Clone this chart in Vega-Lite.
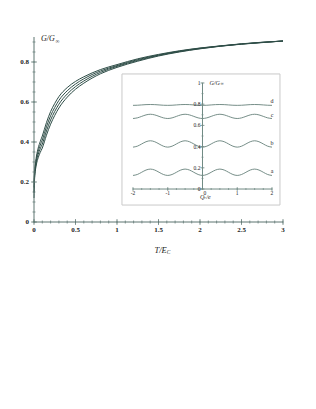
{
"$schema":"https://vega.github.io/schema/vega-lite/v6.json",
"width":249,"height":186,
"autosize":"none",
"padding":{"left":34,"top":36,"right":33,"bottom":187},
"background":"white",
"config":{"view":{"stroke":null},"axis":{"disable":true},"text":{"font":"Liberation Serif","fontSize":7,"color":"#222222"}},
"datasets":{
"main":[
{"t":0,"g1":0.12,"g2":0.147,"g3":0.173,"g4":0.2},
{"t":0.005,"g1":0.198,"g2":0.213,"g3":0.228,"g4":0.243},
{"t":0.01,"g1":0.232,"g2":0.244,"g3":0.256,"g4":0.268},
{"t":0.02,"g1":0.267,"g2":0.279,"g3":0.291,"g4":0.303},
{"t":0.03,"g1":0.29,"g2":0.304,"g3":0.317,"g4":0.33},
{"t":0.05,"g1":0.321,"g2":0.337,"g3":0.353,"g4":0.369},
{"t":0.075,"g1":0.348,"g2":0.366,"g3":0.384,"g4":0.402},
{"t":0.1,"g1":0.37,"g2":0.39,"g3":0.41,"g4":0.43},
{"t":0.15,"g1":0.434,"g2":0.455,"g3":0.476,"g4":0.497},
{"t":0.2,"g1":0.489,"g2":0.51,"g3":0.531,"g4":0.552},
{"t":0.25,"g1":0.533,"g2":0.553,"g3":0.573,"g4":0.593},
{"t":0.3,"g1":0.57,"g2":0.589,"g3":0.608,"g4":0.627},
{"t":0.4,"g1":0.624,"g2":0.64,"g3":0.656,"g4":0.672},
{"t":0.5,"g1":0.664,"g2":0.677,"g3":0.69,"g4":0.703},
{"t":0.6,"g1":0.694,"g2":0.705,"g3":0.716,"g4":0.726},
{"t":0.8,"g1":0.741,"g2":0.748,"g3":0.755,"g4":0.762},
{"t":1.0,"g1":0.773,"g2":0.778,"g3":0.782,"g4":0.787},
{"t":1.25,"g1":0.804,"g2":0.808,"g3":0.812,"g4":0.816},
{"t":1.5,"g1":0.83,"g2":0.833,"g3":0.835,"g4":0.838},
{"t":1.75,"g1":0.85,"g2":0.852,"g3":0.854,"g4":0.856},
{"t":2.0,"g1":0.866,"g2":0.867,"g3":0.869,"g4":0.87},
{"t":2.25,"g1":0.879,"g2":0.88,"g3":0.88,"g4":0.881},
{"t":2.5,"g1":0.889,"g2":0.89,"g3":0.89,"g4":0.891},
{"t":2.75,"g1":0.897,"g2":0.898,"g3":0.898,"g4":0.899},
{"t":3.0,"g1":0.905,"g2":0.905,"g3":0.905,"g4":0.905}
],
"inset":[
{"q":-2,"a":0.128,"b":0.395,"c":0.665,"d":0.789},
{"q":-1.875,"a":0.137,"b":0.404,"c":0.671,"d":0.79},
{"q":-1.75,"a":0.158,"b":0.425,"c":0.685,"d":0.793},
{"q":-1.625,"a":0.179,"b":0.446,"c":0.699,"d":0.796},
{"q":-1.5,"a":0.188,"b":0.455,"c":0.705,"d":0.797},
{"q":-1.375,"a":0.179,"b":0.446,"c":0.699,"d":0.796},
{"q":-1.25,"a":0.158,"b":0.425,"c":0.685,"d":0.793},
{"q":-1.125,"a":0.137,"b":0.404,"c":0.671,"d":0.79},
{"q":-1,"a":0.128,"b":0.395,"c":0.665,"d":0.789},
{"q":-0.875,"a":0.137,"b":0.404,"c":0.671,"d":0.79},
{"q":-0.75,"a":0.158,"b":0.425,"c":0.685,"d":0.793},
{"q":-0.625,"a":0.179,"b":0.446,"c":0.699,"d":0.796},
{"q":-0.5,"a":0.188,"b":0.455,"c":0.705,"d":0.797},
{"q":-0.375,"a":0.179,"b":0.446,"c":0.699,"d":0.796},
{"q":-0.25,"a":0.158,"b":0.425,"c":0.685,"d":0.793},
{"q":-0.125,"a":0.137,"b":0.404,"c":0.671,"d":0.79},
{"q":0,"a":0.128,"b":0.395,"c":0.665,"d":0.789},
{"q":0.125,"a":0.137,"b":0.404,"c":0.671,"d":0.79},
{"q":0.25,"a":0.158,"b":0.425,"c":0.685,"d":0.793},
{"q":0.375,"a":0.179,"b":0.446,"c":0.699,"d":0.796},
{"q":0.5,"a":0.188,"b":0.455,"c":0.705,"d":0.797},
{"q":0.625,"a":0.179,"b":0.446,"c":0.699,"d":0.796},
{"q":0.75,"a":0.158,"b":0.425,"c":0.685,"d":0.793},
{"q":0.875,"a":0.137,"b":0.404,"c":0.671,"d":0.79},
{"q":1,"a":0.128,"b":0.395,"c":0.665,"d":0.789},
{"q":1.125,"a":0.137,"b":0.404,"c":0.671,"d":0.79},
{"q":1.25,"a":0.158,"b":0.425,"c":0.685,"d":0.793},
{"q":1.375,"a":0.179,"b":0.446,"c":0.699,"d":0.796},
{"q":1.5,"a":0.188,"b":0.455,"c":0.705,"d":0.797},
{"q":1.625,"a":0.179,"b":0.446,"c":0.699,"d":0.796},
{"q":1.75,"a":0.158,"b":0.425,"c":0.685,"d":0.793},
{"q":1.875,"a":0.137,"b":0.404,"c":0.671,"d":0.79},
{"q":2,"a":0.128,"b":0.395,"c":0.665,"d":0.789}
],
"lbl":[{"k":"a","q":2,"g":0.128},{"k":"b","q":2,"g":0.395},{"k":"c","q":2,"g":0.665},{"k":"d","q":2,"g":0.789}],
"mxMin":[{"v":0},{"v":0.1},{"v":0.2},{"v":0.3},{"v":0.4},{"v":0.5},{"v":0.6},{"v":0.7},{"v":0.8},{"v":0.9},{"v":1},{"v":1.1},{"v":1.2},{"v":1.3},{"v":1.4},{"v":1.5},{"v":1.6},{"v":1.7},{"v":1.8},{"v":1.9},{"v":2},{"v":2.1},{"v":2.2},{"v":2.3},{"v":2.4},{"v":2.5},{"v":2.6},{"v":2.7},{"v":2.8},{"v":2.9},{"v":3}],
"mxMaj":[{"v":0,"l":"0"},{"v":0.5,"l":"0.5"},{"v":1,"l":"1"},{"v":1.5,"l":"1.5"},{"v":2,"l":"2"},{"v":2.5,"l":"2.5"},{"v":3,"l":"3"}],
"myMin":[{"v":0},{"v":0.05},{"v":0.1},{"v":0.15},{"v":0.2},{"v":0.25},{"v":0.3},{"v":0.35},{"v":0.4},{"v":0.45},{"v":0.5},{"v":0.55},{"v":0.6},{"v":0.65},{"v":0.7},{"v":0.75},{"v":0.8},{"v":0.85},{"v":0.9}],
"myMaj":[{"v":0,"l":"0"},{"v":0.2,"l":"0.2"},{"v":0.4,"l":"0.4"},{"v":0.6,"l":"0.6"},{"v":0.8,"l":"0.8"}],
"ixMin":[{"v":-2},{"v":-1.75},{"v":-1.5},{"v":-1.25},{"v":-1},{"v":-0.75},{"v":-0.5},{"v":-0.25},{"v":0},{"v":0.25},{"v":0.5},{"v":0.75},{"v":1},{"v":1.25},{"v":1.5},{"v":1.75},{"v":2}],
"ixMaj":[{"v":-2,"l":"-2"},{"v":-1,"l":"-1"},{"v":1,"l":"1"},{"v":2,"l":"2"}],
"iyMin":[{"v":0},{"v":0.1},{"v":0.2},{"v":0.3},{"v":0.4},{"v":0.5},{"v":0.6},{"v":0.7},{"v":0.8},{"v":0.9},{"v":1}],
"iyMaj":[{"v":0,"l":"0"},{"v":0.2,"l":"0.2"},{"v":0.4,"l":"0.4"},{"v":0.6,"l":"0.6"},{"v":0.8,"l":"0.8"},{"v":1,"l":"1"}]
},
"layer":[
{"layer":[
{"data":{"name":"main"},"transform":[{"fold":["g1","g2","g3","g4"],"as":["curve","g"]}],
 "mark":{"type":"line","interpolate":"monotone","color":"#2e4d47","strokeWidth":1},
 "encoding":{"x":{"field":"t","type":"quantitative","scale":{"domain":[0,3],"nice":false,"zero":false},"axis":null},
 "y":{"field":"g","type":"quantitative","scale":{"domain":[0,0.93],"nice":false,"zero":false},"axis":null},
 "detail":{"field":"curve"}}},
{"data":{"values":[{}]},"mark":{"type":"rule","color":"#5d7570","strokeWidth":1},
 "encoding":{"x":{"datum":0,"type":"quantitative"},"x2":{"datum":3},"y":{"datum":0,"type":"quantitative"}}},
{"data":{"values":[{}]},"mark":{"type":"rule","color":"#5d7570","strokeWidth":1},
 "encoding":{"x":{"datum":0,"type":"quantitative"},"y":{"datum":0,"type":"quantitative"},"y2":{"datum":0.925}}},
{"data":{"name":"mxMin"},"mark":{"type":"tick","orient":"vertical","size":3,"thickness":1,"color":"#5d7570"},
 "encoding":{"x":{"field":"v","type":"quantitative"},"y":{"datum":0,"type":"quantitative"}}},
{"data":{"name":"mxMaj"},"mark":{"type":"tick","orient":"vertical","size":6,"thickness":1,"color":"#5d7570"},
 "encoding":{"x":{"field":"v","type":"quantitative"},"y":{"datum":0,"type":"quantitative"}}},
{"data":{"name":"myMin"},"mark":{"type":"tick","orient":"horizontal","size":3,"thickness":1,"color":"#5d7570"},
 "encoding":{"y":{"field":"v","type":"quantitative"},"x":{"datum":0,"type":"quantitative"}}},
{"data":{"name":"myMaj"},"mark":{"type":"tick","orient":"horizontal","size":6,"thickness":1,"color":"#5d7570"},
 "encoding":{"y":{"field":"v","type":"quantitative"},"x":{"datum":0,"type":"quantitative"}}},
{"data":{"name":"mxMaj"},"mark":{"type":"text","baseline":"top","dy":4,"fontSize":7,"fontWeight":"bold"},
 "encoding":{"x":{"field":"v","type":"quantitative"},"y":{"datum":0,"type":"quantitative"},"text":{"field":"l"}}},
{"data":{"name":"myMaj"},"mark":{"type":"text","align":"right","baseline":"middle","dx":-5,"fontSize":7,"fontWeight":"bold"},
 "encoding":{"y":{"field":"v","type":"quantitative"},"x":{"datum":0,"type":"quantitative"},"text":{"field":"l"}}},
{"data":{"values":[{}]},"mark":{"type":"text","align":"left","baseline":"middle","fontSize":8,"fontStyle":"italic"},
 "encoding":{"x":{"datum":0.085,"type":"quantitative"},"y":{"datum":0.915,"type":"quantitative"},"text":{"value":"G/G"}}},
{"data":{"values":[{}]},"mark":{"type":"text","align":"left","baseline":"middle","fontSize":5.5,"dx":14.5,"dy":2},
 "encoding":{"x":{"datum":0.085,"type":"quantitative"},"y":{"datum":0.915,"type":"quantitative"},"text":{"value":"∞"}}},
{"data":{"values":[{}]},"mark":{"type":"text","align":"right","baseline":"middle","fontSize":8.5,"fontStyle":"italic"},
 "encoding":{"x":{"datum":1.6,"type":"quantitative"},"y":{"datum":-0.14,"type":"quantitative"},"text":{"value":"T/E"}}},
{"data":{"values":[{}]},"mark":{"type":"text","align":"left","baseline":"middle","fontSize":5.5,"fontStyle":"italic","dy":2},
 "encoding":{"x":{"datum":1.6,"type":"quantitative"},"y":{"datum":-0.14,"type":"quantitative"},"text":{"value":"C"}}}
]},
{"layer":[
{"data":{"values":[{}]},"mark":{"type":"rect","fill":"white","stroke":"#c9c9c9","strokeWidth":1},
 "encoding":{"x":{"datum":-2.317,"type":"quantitative","scale":{"domain":[-4.849,2.317],"nice":false,"zero":false},"axis":null},"x2":{"datum":2.23},
 "y":{"datum":-0.151,"type":"quantitative","scale":{"domain":[-0.311,1.443],"nice":false,"zero":false},"axis":null},"y2":{"datum":1.085}}},
{"data":{"name":"inset"},"transform":[{"fold":["a","b","c","d"],"as":["k","g"]}],
 "mark":{"type":"line","interpolate":"monotone","color":"#66817b","strokeWidth":0.9},
 "encoding":{"x":{"field":"q","type":"quantitative"},"y":{"field":"g","type":"quantitative"},"detail":{"field":"k"}}},
{"data":{"values":[{}]},"mark":{"type":"rule","color":"#708a84","strokeWidth":1},
 "encoding":{"x":{"datum":-2,"type":"quantitative"},"x2":{"datum":2},"y":{"datum":0,"type":"quantitative"}}},
{"data":{"values":[{}]},"mark":{"type":"rule","color":"#708a84","strokeWidth":1},
 "encoding":{"x":{"datum":0,"type":"quantitative"},"y":{"datum":0,"type":"quantitative"},"y2":{"datum":1}}},
{"data":{"name":"ixMin"},"mark":{"type":"tick","orient":"vertical","size":2,"thickness":1,"color":"#708a84"},
 "encoding":{"x":{"field":"v","type":"quantitative"},"y":{"datum":0,"type":"quantitative"}}},
{"data":{"name":"ixMaj"},"mark":{"type":"tick","orient":"vertical","size":4,"thickness":1,"color":"#708a84"},
 "encoding":{"x":{"field":"v","type":"quantitative"},"y":{"datum":0,"type":"quantitative"}}},
{"data":{"name":"iyMin"},"mark":{"type":"tick","orient":"horizontal","size":2,"thickness":1,"color":"#708a84"},
 "encoding":{"y":{"field":"v","type":"quantitative"},"x":{"datum":0,"type":"quantitative"}}},
{"data":{"name":"iyMaj"},"mark":{"type":"tick","orient":"horizontal","size":4,"thickness":1,"color":"#708a84"},
 "encoding":{"y":{"field":"v","type":"quantitative"},"x":{"datum":0,"type":"quantitative"}}},
{"data":{"name":"ixMaj"},"mark":{"type":"text","baseline":"top","dy":2,"fontSize":5.5},
 "encoding":{"x":{"field":"v","type":"quantitative"},"y":{"datum":0,"type":"quantitative"},"text":{"field":"l"}}},
{"data":{"values":[{}]},"mark":{"type":"text","align":"left","baseline":"top","dx":1,"dy":2,"fontSize":5.5},
 "encoding":{"x":{"datum":0,"type":"quantitative"},"y":{"datum":0,"type":"quantitative"},"text":{"value":"0"}}},
{"data":{"name":"iyMaj"},"mark":{"type":"text","align":"right","baseline":"middle","dx":-2,"fontSize":5.5},
 "encoding":{"y":{"field":"v","type":"quantitative"},"x":{"datum":0,"type":"quantitative"},"text":{"field":"l"}}},
{"data":{"name":"lbl"},"mark":{"type":"text","align":"center","baseline":"bottom","dy":-1,"fontSize":6},
 "encoding":{"x":{"field":"q","type":"quantitative"},"y":{"field":"g","type":"quantitative"},"text":{"field":"k"}}},
{"data":{"values":[{}]},"mark":{"type":"text","align":"left","baseline":"middle","fontSize":6,"fontStyle":"italic"},
 "encoding":{"x":{"datum":0.2,"type":"quantitative"},"y":{"datum":1,"type":"quantitative"},"text":{"value":"G/G"}}},
{"data":{"values":[{}]},"mark":{"type":"text","align":"left","baseline":"middle","fontSize":4.5,"dx":11,"dy":1.5},
 "encoding":{"x":{"datum":0.2,"type":"quantitative"},"y":{"datum":1,"type":"quantitative"},"text":{"value":"∞"}}},
{"data":{"values":[{}]},"mark":{"type":"text","align":"right","baseline":"middle","fontSize":6,"fontStyle":"italic"},
 "encoding":{"x":{"datum":0.05,"type":"quantitative"},"y":{"datum":-0.075,"type":"quantitative"},"text":{"value":"Q"}}},
{"data":{"values":[{}]},"mark":{"type":"text","align":"left","baseline":"middle","fontSize":4,"fontStyle":"italic","dy":1.5},
 "encoding":{"x":{"datum":0.05,"type":"quantitative"},"y":{"datum":-0.075,"type":"quantitative"},"text":{"value":"r"}}},
{"data":{"values":[{}]},"mark":{"type":"text","align":"left","baseline":"middle","fontSize":6,"fontStyle":"italic","dx":2},
 "encoding":{"x":{"datum":0.05,"type":"quantitative"},"y":{"datum":-0.075,"type":"quantitative"},"text":{"value":"/e"}}}
]}
],
"resolve":{"scale":{"x":"independent","y":"independent"}}
}
